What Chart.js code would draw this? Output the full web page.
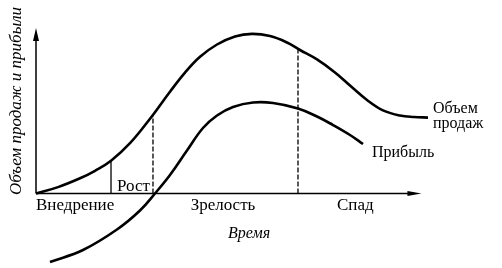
<!DOCTYPE html>
<html>
<head>
<meta charset="utf-8">
<script src="https://cdn.jsdelivr.net/npm/chart.js@4.4.1/dist/chart.umd.min.js"></script>
<style>
  html, body { margin: 0; padding: 0; background: #fff; }
  #wrap { width: 502px; height: 268px; }
</style>
</head>
<body>
<div id="wrap"><canvas id="plc" width="502" height="268"></canvas></div>
<script>
// Жизненный цикл товара: объем продаж и прибыль во времени
const salesX = [0, 5.71, 11.42, 15.31, 19.46, 24.39, 29.58, 34.76, 38.66, 42.55, 46.96, 51.63, 56.04, 60.71, 65.12, 68.49, 72.90, 77.57, 81.46, 85.87, 90.02, 94.43, 98.07, 101.70];
const salesY = [0, 3.86, 9.18, 13.71, 19.75, 30.39, 45.19, 61.51, 73.05, 82.60, 90.03, 94.92, 96.43, 95.11, 91.24, 86.71, 81.03, 73.17, 65.25, 56.49, 50.21, 47.13, 46.22, 45.86];
const profitX = [3.63, 12.19, 21.01, 26.98, 30.87, 34.76, 39.17, 43.32, 46.96, 51.11, 56.30, 61.49, 67.97, 72.90, 77.05, 81.46, 84.84];
const profitY = [-41.40, -34.14, -21.76, -10.28, 0, 11.17, 25.98, 39.57, 47.13, 52.26, 54.98, 54.68, 51.36, 46.52, 41.38, 35.34, 29.90];

// границы этапов и высота кривой продаж на них
const phaseEdges = [19.46, 30.35, 67.97];
const phaseTops = [19.75, 47.67, 87.0];
const phaseNames = ['Внедрение', 'Рост', 'Зрелость', 'Спад'];
const axisEnd = { x: 100, y: 100 };

const toPoints = (xs, ys) => xs.map((x, i) => ({ x: x, y: ys[i] }));

const curveStyle = {
    borderColor: '#000',
    borderWidth: 2.6,
    pointRadius: 0,
    fill: false,
    tension: 0.4,
    clip: false
};

const datasets = [
    Object.assign({ label: 'Объем продаж', data: toPoints(salesX, salesY) }, curveStyle),
    Object.assign({ label: 'Прибыль', data: toPoints(profitX, profitY) }, curveStyle)
];

// вертикальные линии между этапами
phaseEdges.forEach((edge, i) => {
    datasets.push({
        label: 'edge' + i,
        data: [{ x: edge, y: 0 }, { x: edge, y: phaseTops[i] }],
        borderColor: '#000',
        borderWidth: 1.3,
        borderDash: i === 0 ? [] : [5, 2],
        pointRadius: 0,
        tension: 0
    });
});

const serif = '"Liberation Serif", "DejaVu Serif", serif';

const axesAndText = {
    id: 'axesAndText',
    afterDatasetsDraw(chart) {
        const ctx = chart.ctx;
        const xs = chart.scales.x;
        const ys = chart.scales.y;
        const x0 = xs.getPixelForValue(0);
        const y0 = ys.getPixelForValue(0);
        const xe = xs.getPixelForValue(axisEnd.x);
        const ye = ys.getPixelForValue(axisEnd.y);

        ctx.save();
        ctx.strokeStyle = '#000';
        ctx.fillStyle = '#000';
        ctx.lineWidth = 1.5;

        // оси
        ctx.beginPath();
        ctx.moveTo(x0, y0);
        ctx.lineTo(x0, ye + 6);
        ctx.moveTo(x0, y0);
        ctx.lineTo(xe - 8, y0);
        ctx.stroke();

        // стрелки
        ctx.beginPath();
        ctx.moveTo(x0, ye);
        ctx.lineTo(x0 - 3, ye + 13);
        ctx.lineTo(x0 + 3, ye + 13);
        ctx.closePath();
        ctx.fill();
        ctx.beginPath();
        ctx.moveTo(xe, y0);
        ctx.lineTo(xe - 14, y0 - 2.5);
        ctx.lineTo(xe - 14, y0 + 2.5);
        ctx.closePath();
        ctx.fill();

        // этапы
        ctx.font = '17px ' + serif;
        ctx.textBaseline = 'alphabetic';
        ctx.textAlign = 'left';
        ctx.fillText(phaseNames[0], x0, y0 + 17);
        ctx.fillText(phaseNames[1], xs.getPixelForValue(phaseEdges[0]) + 6, y0 - 2);
        ctx.textAlign = 'center';
        ctx.fillText(phaseNames[2], 223, y0 + 17);
        ctx.textAlign = 'left';
        ctx.fillText(phaseNames[3], 337, y0 + 17);

        // подписи кривых
        ctx.font = '16px ' + serif;
        ctx.fillText('Объем', 433, 113);
        ctx.fillText('продаж', 433, 128);
        ctx.fillText('Прибыль', 372, 157);

        // подписи осей
        ctx.font = 'italic 16px ' + serif;
        ctx.textAlign = 'center';
        ctx.fillText('Время', 249, 238);
        ctx.font = 'italic 17px ' + serif;
        ctx.translate(21, 101);
        ctx.rotate(-Math.PI / 2);
        ctx.fillText('Объем продаж и прибыли', 0, 0);
        ctx.restore();
    }
};

new Chart(document.getElementById('plc'), {
    type: 'line',
    data: { datasets: datasets },
    options: {
        responsive: false,
        animation: false,
        devicePixelRatio: 1,
        layout: { padding: { left: 36, top: 28, right: 42, bottom: 5 } },
        plugins: { legend: { display: false }, tooltip: { enabled: false } },
        scales: {
            x: { type: 'linear', min: 0, max: 110, display: false },
            y: { type: 'linear', min: -42, max: 100, display: false }
        }
    },
    plugins: [axesAndText]
});
</script>
</body>
</html>
